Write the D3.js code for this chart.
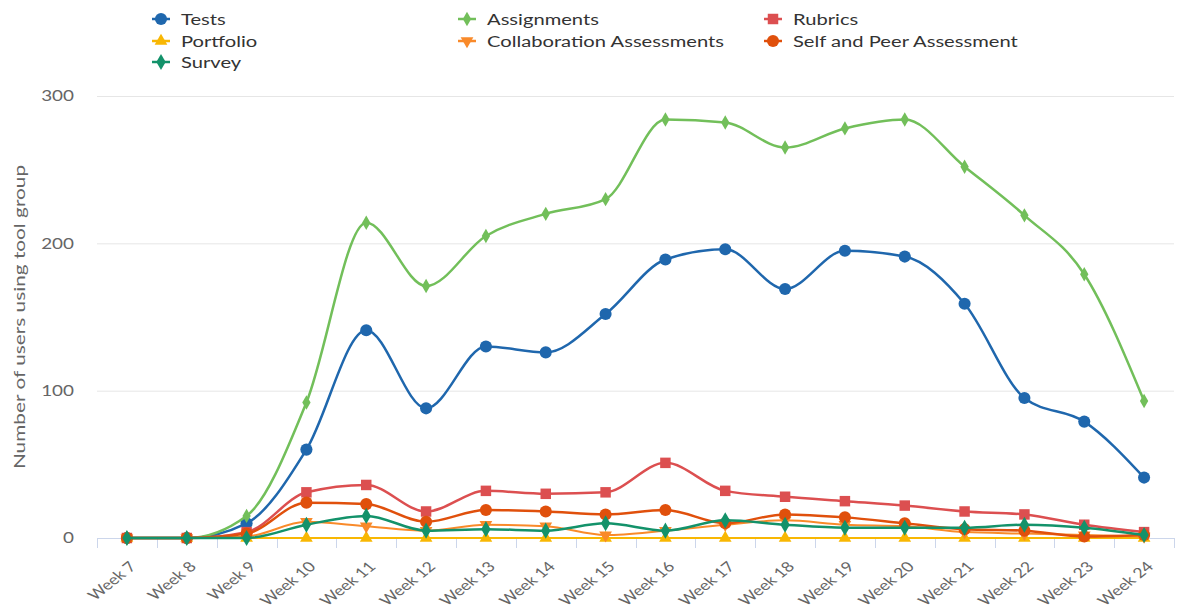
<!DOCTYPE html>
<html>
<head>
<meta charset="utf-8">
<script src="https://cdn.jsdelivr.net/npm/d3@7"></script>
<style>
  body { margin: 0; background: #fff; }
  svg { font-family: Lato, "Open Sans", sans-serif; }
</style>
</head>
<body>
<div id="chart"></div>
<script>
const weeks = ['Week 7', 'Week 8', 'Week 9', 'Week 10', 'Week 11', 'Week 12', 'Week 13', 'Week 14', 'Week 15',
  'Week 16', 'Week 17', 'Week 18', 'Week 19', 'Week 20', 'Week 21', 'Week 22', 'Week 23', 'Week 24']

const tests         = [0, 0, 10, 60, 141, 88, 130, 126, 152, 189, 196, 169, 195, 191, 159, 95, 79, 41]
const assignments   = [0, 0, 15, 92, 214, 171, 205, 220, 230, 284, 282, 265, 278, 284, 252, 219, 179, 93]
const rubrics       = [0, 0, 4, 31, 36, 18, 32, 30, 31, 51, 32, 28, 25, 22, 18, 16, 9, 4]
const portfolio     = [0, 0, 0, 0, 0, 0, 0, 0, 0, 0, 0, 0, 0, 0, 0, 0, 0, 0]
const collaboration = [0, 0, 1, 11, 8, 5, 9, 8, 2, 5, 9, 12, 9, 8, 4, 3, 2, 1]
const selfPeer      = [0, 0, 3, 24, 23, 11, 19, 18, 16, 19, 10, 16, 14, 10, 6, 5, 1, 2]
const survey        = [0, 0, 0, 9, 15, 5, 6, 5, 10, 5, 12, 9, 7, 7, 7, 9, 7, 2]
const yTicks = [0, 100, 200, 300]

const series = [
  { name: 'Tests', values: tests, color: '#1f67ad', symbol: d3.symbolCircle, size: 115, width: 2.5 },
  { name: 'Assignments', values: assignments, color: '#72bf5a', symbol: d3.symbolDiamond, size: 60, width: 2.5 },
  { name: 'Rubrics', values: rubrics, color: '#dc4f50', symbol: d3.symbolSquare, size: 110, width: 2.5 },
  { name: 'Portfolio', values: portfolio, color: '#f8b703', symbol: d3.symbolTriangle, size: 70, width: 2 },
  { name: 'Collaboration Assessments', values: collaboration, color: '#f98a2a', symbol: d3.symbolTriangle, size: 70, width: 2, flip: true },
  { name: 'Self and Peer Assessment', values: selfPeer, color: '#e0500c', symbol: d3.symbolCircle, size: 115, width: 2.5 },
  { name: 'Survey', values: survey, color: '#13926a', symbol: d3.symbolDiamond, size: 75, width: 2.5 }
]

const width = 1178
const height = 611
const margin = { top: 96, bottom: 73, left: 97, right: 4 }
const stretch = 1.26   // the text in the picture is wider than tall

const svg = d3.select('#chart')
  .append('svg')
  .attr('width', width)
  .attr('height', height)

const x = d3.scaleBand()
  .domain(weeks)
  .range([margin.left, width - margin.right])

const y = d3.scaleLinear()
  .domain([0, 300])
  .range([height - margin.bottom, margin.top])

const cx = w => x(w) + x.bandwidth() / 2

// grid
svg.append('g')
  .selectAll('line')
  .data(yTicks.filter(t => t > 0))
  .join('line')
    .attr('x1', margin.left)
    .attr('x2', width - margin.right)
    .attr('y1', d => y(d) + 0.5)
    .attr('y2', d => y(d) + 0.5)
    .attr('stroke', '#e6e6e6')

// y labels
svg.append('g')
  .selectAll('text')
  .data(yTicks)
  .join('text')
    .attr('transform', d => `translate(74, ${y(d)}) scale(${stretch}, 1)`)
    .attr('dy', '0.35em')
    .attr('text-anchor', 'end')
    .attr('fill', '#666')
    .attr('font-size', 15)
    .text(d => d)

svg.append('text')
  .attr('transform', `translate(25, ${(y(0) + y(300)) / 2}) rotate(-90) scale(1.3, 1)`)
  .attr('text-anchor', 'middle')
  .attr('fill', '#666')
  .attr('font-size', 16)
  .text('Number of users using tool group')

// x axis
const xg = svg.append('g')
xg.append('line')
  .attr('x1', margin.left)
  .attr('x2', width - margin.right)
  .attr('y1', y(0) + 0.5)
  .attr('y2', y(0) + 0.5)
  .attr('stroke', '#ccd6eb')
xg.selectAll('.tick')
  .data(weeks.map(w => x(w)).concat([x.range()[1]]))
  .join('line')
    .attr('class', 'tick')
    .attr('x1', d => Math.round(d) + 0.5)
    .attr('x2', d => Math.round(d) + 0.5)
    .attr('y1', y(0))
    .attr('y2', y(0) + 10)
    .attr('stroke', '#ccd6eb')
xg.selectAll('text')
  .data(weeks)
  .join('text')
    .attr('transform', d => `translate(${cx(d) + 6}, ${y(0) + 26}) scale(${stretch}, 1) rotate(-45)`)
    .attr('text-anchor', 'end')
    .attr('dy', '0.35em')
    .attr('fill', '#666')
    .attr('font-size', 14)
    .text(d => d)

// series
const line = d3.line()
  .x((d, i) => cx(weeks[i]))
  .y(d => y(d))
  .curve(d3.curveMonotoneX)

series.forEach(s => {
  const g = svg.append('g')
  g.append('path')
    .attr('d', line(s.values))
    .attr('fill', 'none')
    .attr('stroke', s.color)
    .attr('stroke-width', s.width)
  g.selectAll('path.m')
    .data(s.values)
    .join('path')
      .attr('class', 'm')
      .attr('d', d3.symbol(s.symbol, s.size))
      .attr('transform', (d, i) => `translate(${cx(weeks[i])}, ${y(d)})` + (s.flip ? ' rotate(180)' : ''))
      .attr('fill', s.color)
})

// legend
const legX = [152, 458, 764]
const legY = [19, 41, 62]
const leg = svg.append('g')
  .selectAll('g')
  .data(series)
  .join('g')
    .attr('transform', (d, i) => `translate(${legX[i % 3]}, ${legY[Math.floor(i / 3)]})`)
leg.append('line')
  .attr('x1', 0).attr('x2', 18)
  .attr('stroke', d => d.color)
  .attr('stroke-width', 2.5)
leg.append('path')
  .attr('d', d => d3.symbol(d.symbol, d.size)())
  .attr('transform', d => 'translate(9, 0)' + (d.flip ? ' rotate(180)' : ''))
  .attr('fill', d => d.color)
leg.append('text')
  .attr('transform', `translate(29, 0) scale(${stretch}, 1)`)
  .attr('dy', '0.35em')
  .attr('fill', '#333')
  .attr('font-size', 16)
  .text(d => d.name)
</script>
</body>
</html>
